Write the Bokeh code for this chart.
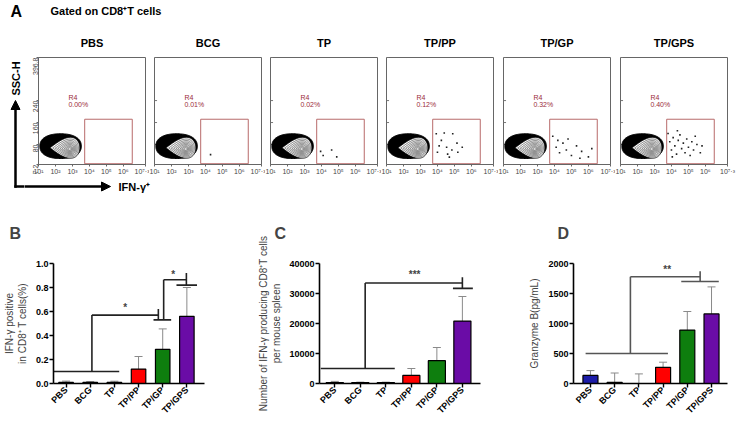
import numpy as np
from bokeh.plotting import figure
from bokeh.layouts import row, column
from bokeh.models import (Range1d, FixedTicker, Label, Arrow, NormalHead, Whisker, TeeHead,
                          ColumnDataSource, PrintfTickFormatter, CustomJSTickFormatter)
from bokeh.core.properties import value
from bokeh.embed import file_html
from bokeh.resources import INLINE

FONT = "Liberation Sans"

# ---------------- data ----------------
groups = ["PBS", "BCG", "TP", "TP/PP", "TP/GP", "TP/GPS"]
bar_colors = ["#1c1ca8", "#555555", "#555555", "#ff0000", "#0e7e0e", "#6a0ca6"]

# panel A (flow cytometry)
gate_pct = ["0.00%", "0.01%", "0.02%", "0.12%", "0.32%", "0.40%"]
flow_x_exp_ticks = [1, 2, 3, 4, 5, 6, 7.3]
flow_y_ticks = [7.2, 80, 160, 240, 396.8]
gate_x_exp = [3.72, 6.52]
gate_y = [10, 172]
# events inside the R4 gate (log10 IFN-γ, SSC-H)
ev_x = [
    [],
    [4.3],
    [3.95, 4.1, 4.6, 4.9],
    [3.93, 4.23, 4.54, 4.85, 5.15, 5.2, 5.46, 4.7, 4.4, 4.0, 4.9, 4.1, 4.6],
    [3.9, 4.1, 4.3, 4.5, 4.7, 5.0, 5.3, 5.6, 6.0, 6.2, 4.2, 4.8, 5.5],
    [3.8, 3.9, 4.0, 4.1, 4.2, 4.3, 4.4, 4.5, 4.6, 4.7, 4.8, 4.9, 5.0, 5.1, 5.2, 5.3, 5.5, 5.7,
     4.35, 4.05, 5.4, 5.8],
]
ev_y = [
    [],
    [43],
    [55, 40, 60, 35],
    [119, 95, 70, 60, 85, 52, 70, 34, 122, 52, 119, 75, 45],
    [110, 70, 50, 85, 60, 40, 75, 55, 35, 65, 95, 100, 30],
    [120, 90, 60, 105, 75, 45, 95, 115, 65, 85, 50, 100, 70, 40, 90, 60, 80, 50,
     130, 35, 110, 75],
]
# population shape (log10 x centre, half width, y centre, half height)
blob_outer = (2.3, 1.22, 74, 45)
blob_inner = (2.55, 0.88, 68, 38)
contour_focus = (2.85, 63)
contour_scales = [1.0, 0.86, 0.73, 0.61, 0.5, 0.4, 0.3, 0.21, 0.12]

# panel B
ifn_pct = [0.01, 0.01, 0.01, 0.12, 0.285, 0.56]
ifn_pct_err = [0.01, 0.006, 0.009, 0.105, 0.17, 0.24]
# panel C
ifn_num = [300, 300, 300, 2700, 7600, 20800]
ifn_num_err = [400, 150, 150, 2300, 4400, 8200]
# panel D
gzmb = [135, 20, 0, 270, 890, 1160]
gzmb_err = [80, 155, 160, 85, 310, 450]

# significance brackets (x0, y0, x1, y1) in group-index / value units
brk_B = [(-0.5, 0.10, 2.2, 0.10), (1.07, 0.10, 1.07, 0.57), (1.07, 0.57, 3.82, 0.57),
         (3.82, 0.53, 3.82, 0.62), (3.62, 0.53, 4.35, 0.53), (4.04, 0.53, 4.04, 0.865),
         (4.04, 0.865, 4.98, 0.865), (4.98, 0.82, 4.98, 0.92), (4.57, 0.82, 5.42, 0.82)]
stars_B = [(2.45, 0.63, "*"), (4.43, 0.91, "*")]
brk_C = [(-0.55, 5000, 2.35, 5000), (1.19, 5000, 1.19, 33500), (1.19, 33500, 5.0, 33500),
         (5.0, 31700, 5.0, 35400), (4.63, 31700, 5.41, 31700)]
stars_C = [(3.13, 36300, "***")]
brk_D = [(-0.2, 500, 3.2, 500), (1.65, 500, 1.65, 1780), (1.65, 1780, 4.53, 1780),
         (4.53, 1700, 4.53, 1870), (3.75, 1700, 5.3, 1700)]
stars_D = [(3.17, 1900, "**")]


# ---------------- helpers ----------------
def blank_fig(w, h, x0, x1, y_top, y_bottom):
    """figure whose data units are page pixels (y grows downward)"""
    p = figure(width=w, height=h, x_range=Range1d(x0, x1), y_range=Range1d(y_bottom, y_top),
               x_axis_location=None, y_axis_location=None, min_border=0,
               output_backend="svg", toolbar_location=None, outline_line_color=None)
    p.grid.visible = False
    return p


def put_text(p, x, y, text, size, bold=True, angle=0.0, align="left", color="black"):
    p.text(x=[x], y=[y], text=[text], angle=angle, text_font=value(FONT), text_font_size=size,
           text_font_style="bold" if bold else "normal", text_align=align,
           text_baseline="middle", text_color=color)


def teardrop(cx, hw, cy, hh, n=120):
    t = np.linspace(0, 2 * np.pi, n)
    u = np.cos(t)
    f = np.sin(t) * ((1 + u) / 2) ** 0.6
    f = f / np.abs(f).max()
    return cx + hw * u, cy + hh * f


def superellipse(cx, hw, cy, hh, n=120, e=2.3):
    t = np.linspace(0, 2 * np.pi, n)
    c, s = np.cos(t), np.sin(t)
    return (cx + hw * np.sign(c) * np.abs(c) ** (2 / e),
            cy + hh * np.sign(s) * np.abs(s) ** (2 / e))


sup_fmt = CustomJSTickFormatter(code="""
const sup = {'0':'\u2070','1':'\u00b9','2':'\u00b2','3':'\u00b3','4':'\u2074','5':'\u2075',
             '6':'\u2076','7':'\u2077','8':'\u2078','9':'\u2079','.':'\u00b7'};
const e = Math.round(Math.log10(tick) * 10) / 10;
return '10' + e.toString().split('').map(c => sup[c]).join('');
""")


def flow_fig(i, w, bl, br):
    p = figure(width=w, height=128, x_axis_type="log",
               x_range=Range1d(10 ** 1, 10 ** 7.3), y_range=Range1d(7.2, 396.8),
               min_border_left=bl, min_border_right=br, min_border_top=7, min_border_bottom=14,
               y_axis_location="left" if i == 0 else None,
               output_backend="svg", toolbar_location=None,
               outline_line_color="#666666", outline_line_width=1)
    p.grid.visible = False
    xa = p.xaxis[0]
    xa.ticker = FixedTicker(ticks=[10 ** e for e in flow_x_exp_ticks], minor_ticks=[])
    xa.formatter = sup_fmt
    xa.major_label_text_font = FONT
    xa.major_label_text_font_size = "7px"
    xa.major_label_text_color = "#444444"
    xa.major_label_standoff = 1
    xa.major_tick_out = 2
    xa.major_tick_in = 0
    xa.minor_tick_line_color = None
    xa.axis_line_color = "#666666"
    xa.major_tick_line_color = "#666666"
    if i == 0:
        ya = p.yaxis[0]
        ya.ticker = FixedTicker(ticks=flow_y_ticks, minor_ticks=[])
        ya.axis_line_color = "#666666"
        ya.major_tick_line_color = "#666666"
        ya.minor_tick_line_color = None
        ya.major_label_orientation = np.pi / 2
        ya.major_label_text_font = FONT
        ya.major_label_text_font_size = "7px"
        ya.major_label_text_color = "#444444"
        ya.major_label_standoff = 1
        ya.major_tick_out = 2
        ya.major_tick_in = 0
        ya.formatter = PrintfTickFormatter(format="%g")
    else:
        # small inward tick marks on the left edge
        p.segment(x0=[10 ** 1] * len(flow_y_ticks), x1=[10 ** 1.15] * len(flow_y_ticks),
                  y0=flow_y_ticks, y1=flow_y_ticks, line_color="#777777", line_width=1)

    # population
    ox, oy = superellipse(*blob_outer)
    p.patch(10 ** ox, oy, fill_color="black", line_color="black", line_width=1)
    tx, ty = teardrop(*blob_inner)
    fx, fy = contour_focus
    p.patch(10 ** tx, ty, fill_color="white", line_color="black", line_width=0.8)
    for s in contour_scales[1:]:
        cx = fx + s * (tx - fx)
        cy = fy + s * (ty - fy)
        p.line(10 ** cx, cy, line_color="#444444", line_width=0.7)
    # gate
    p.quad(left=[10 ** gate_x_exp[0]], right=[10 ** gate_x_exp[1]],
           bottom=[gate_y[0]], top=[gate_y[1]],
           fill_color=None, line_color="#b86a6a", line_width=1)
    # events
    if ev_x[i]:
        p.scatter([10 ** v for v in ev_x[i]], ev_y[i], marker="square", size=1.6,
                  fill_color="#222222", line_color=None)
    p.add_layout(Label(x=10 ** 2.76, y=250, text="R4", text_font=FONT, text_font_size="7px",
                       text_color="#9b2c3a", text_baseline="middle"))
    p.add_layout(Label(x=10 ** 2.76, y=224, text=gate_pct[i], text_font=FONT, text_font_size="7px",
                       text_color="#9b2c3a", text_baseline="middle"))
    return p


def bar_fig(vals, errs, w, bl, br, xr, ymax, yticks, yfmt, bw, brk, stars, brk_color,
            letter, letter_offset, ylabel, ylabel_standoff):
    p = figure(width=w, height=225, x_range=Range1d(*xr), y_range=Range1d(0, ymax),
               min_border_left=bl, min_border_right=br, min_border_top=67, min_border_bottom=38,
               output_backend="svg", toolbar_location=None, outline_line_color=None)
    p.grid.visible = False
    p.title.text = letter
    p.title.align = "left"
    p.title.vertical_align = "top"
    p.title.offset = letter_offset
    p.title.standoff = 40
    p.title.text_font = FONT
    p.title.text_font_size = "16px"
    p.title.text_font_style = "bold"
    idx = list(range(len(groups)))
    src = ColumnDataSource(dict(x=idx, top=vals, upper=[v + e for v, e in zip(vals, errs)],
                                color=bar_colors))
    p.add_layout(Whisker(base="x", lower="top", upper="upper", source=src, line_color="#8a8a8a",
                         line_width=1, lower_head=None,
                         upper_head=TeeHead(size=8, line_color="#8a8a8a", line_width=1)))
    p.vbar(x="x", top="top", width=bw, fill_color="color", line_color="black", line_width=1.2,
           source=src)
    p.segment(x0=[b[0] for b in brk], y0=[b[1] for b in brk], x1=[b[2] for b in brk],
              y1=[b[3] for b in brk], line_color=brk_color, line_width=1.6)
    for sx, sy, st in stars:
        p.add_layout(Label(x=sx, y=sy, text=st, text_font=FONT, text_font_size="10px",
                           text_font_style="bold", text_align="center", text_baseline="middle"))
    xa = p.xaxis[0]
    xa.ticker = FixedTicker(ticks=idx, minor_ticks=[])
    xa.major_label_overrides = {i: g for i, g in enumerate(groups)}
    xa.major_label_orientation = np.pi / 4
    ya = p.yaxis[0]
    ya.ticker = FixedTicker(ticks=yticks, minor_ticks=[])
    ya.formatter = PrintfTickFormatter(format=yfmt)
    ya.axis_label = ylabel
    ya.axis_label_text_font = FONT
    ya.axis_label_text_font_size = "10px"
    ya.axis_label_text_font_style = "normal"
    ya.axis_label_standoff = ylabel_standoff
    for ax in (xa, ya):
        ax.axis_line_width = 1.6
        ax.axis_line_color = "black"
        ax.major_tick_line_width = 1.4
        ax.major_tick_out = 4
        ax.major_tick_in = 0
        ax.minor_tick_line_color = None
        ax.major_label_text_font = FONT
        ax.major_label_text_font_size = "9px"
        ax.major_label_text_font_style = "bold"
        ax.major_label_text_color = "black"
        ax.major_label_standoff = 1
    return p


# ---------------- header (A, subtitle, flow titles) ----------------
hdr = blank_fig(736, 50, 0, 736, 0, 50)
put_text(hdr, 10, 11, "A", "16px")
put_text(hdr, 50, 10, "Gated on CD8\u207aT cells", "11px")
frame_left = [38, 154, 270, 386, 503, 620]
for i, g in enumerate(groups):
    put_text(hdr, frame_left[i] + 53.5, 42, g, "11px", align="center")

# ---------------- flow row ----------------
left_full = blank_fig(24, 146, 0, 24, 50, 196)
left_full.add_layout(Arrow(end=NormalHead(size=9, fill_color="black", line_color="black"),
                           x_start=15, y_start=187.2, x_end=15, y_end=100, line_width=2.5))
left_full.segment(x0=[13.8], y0=[186], x1=[24.5], y1=[186], line_color="black", line_width=2.5)
put_text(left_full, 15, 78, "SSC-H", "11px", angle=np.pi / 2, align="center")

widths = [125, 116, 116, 117, 117, 121]
borders = [(14, 4), (5, 4), (5, 4), (5, 5), (5, 5), (5, 9)]
flows = [flow_fig(i, widths[i], *borders[i]) for i in range(6)]

bottom_right = blank_fig(712, 18, 24, 736, 178, 196)
bottom_right.add_layout(Arrow(end=NormalHead(size=9, fill_color="black", line_color="black"),
                              x_start=23.5, y_start=186, x_end=110, y_end=186, line_width=2.5))
put_text(bottom_right, 118, 186, "IFN-\u03b3\u207a", "11px")

top_section = row(left_full, column(row(*flows), bottom_right))

# ---------------- bar panels (page y 196..421) ----------------
pB = bar_fig(ifn_pct, ifn_pct_err, 255, 49, 51, (-0.52, 5.73), 1.0,
             [0, 0.2, 0.4, 0.6, 0.8, 1.0], "%.1f", 0.6, brk_B, stars_B, "#222222",
             "B", -44, "IFN-\u03b3 positive\nin CD8\u207a T cells(%)", 5)
pC = bar_fig(ifn_num, ifn_num_err, 240, 57, 15, (-0.6, 5.71), 40000,
             [0, 10000, 20000, 30000, 40000], "%d", 0.67, brk_C, stars_C, "#222222",
             "C", -45, "Number of IFN-\u03b3 producing CD8\u207aT cells\nper mouse spleen", 4)
pD = bar_fig(gzmb, gzmb_err, 241, 78, 9, (-0.7, 5.66), 2000,
             [0, 500, 1000, 1500, 2000], "%d", 0.62, brk_D, stars_D, "#555555",
             "D", -16, "Granzyme B(pg/mL)", 5)

layout = column(hdr, top_section, row(pB, pC, pD))

open("out.html", "w").write(file_html(layout, INLINE))
